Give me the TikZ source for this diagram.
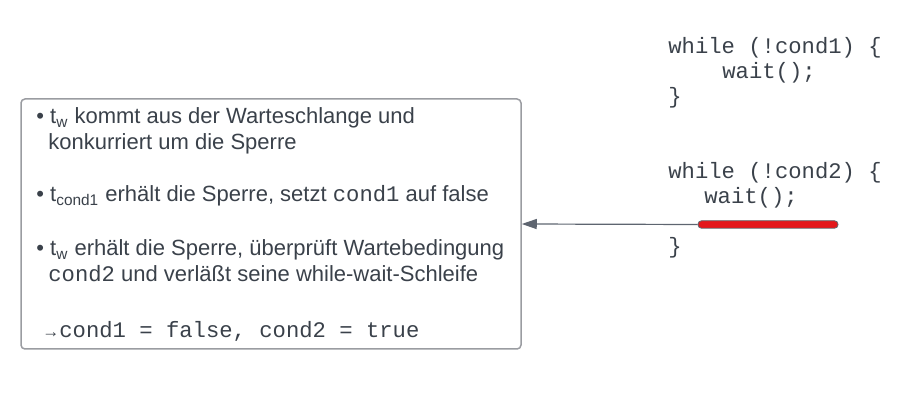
\documentclass[tikz,border=0pt]{standalone}
\usepackage{fontspec}
\setmainfont{Liberation Sans}
\setmonofont[Scale=1.01]{Liberation Mono}
\usetikzlibrary{arrows.meta}
\definecolor{T1}{HTML}{3A414A}
\definecolor{B1}{HTML}{9A9CA1}
\definecolor{A1}{HTML}{5E6570}
\definecolor{R1}{HTML}{E4171B}
\tikzset{
  note/.style = {anchor=base west, inner sep=0pt, text=T1},
  src/.style  = {anchor=base west, inner sep=0pt, text=T1, font=\ttfamily},
  panel/.style = {
    rectangle,
    rounded corners = 2pt,
    minimum width = 250pt,
    minimum height = 125pt,
    draw = B1,
    line width = 0.75pt,
  },
  bar/.style = {
    rectangle,
    rounded corners = 1.75pt,
    minimum width = 70pt,
    minimum height = 3.75pt,
    inner sep = 0pt,
    fill = R1,
    draw = T1!80,
    line width = 0.4pt,
  },
  flow/.style = {A1, line width=0.6pt, -{Triangle[length=7.5pt,width=5pt]}},
}

\begin{document}
\begin{tikzpicture}[x=0.5pt,y=-0.5pt]
  \fontsize{11}{13}\selectfont
  \useasboundingbox (0,0) rectangle (920,400);
  % box with the steps
  \node[panel](box) at (271,224) {};
  \node[note](l1) at (36,124) {• t\textsubscript{w} kommt aus der Warteschlange und};
  \node[note](l2) at (48,150) {konkurriert um die Sperre};
  \node[note](l3) at (36,202) {• t\textsubscript{cond1} erhält die Sperre, setzt \texttt{cond1} auf false};
  \node[note](l4) at (36,256) {• t\textsubscript{w} erhält die Sperre, überprüft Wartebedingung};
  \node[note](l5) at (48,282) {\texttt{cond2} und verläßt seine while-wait-Schleife};
  \node[note](l6) at (42,337) {{\fontsize{8.5}{8.5}\selectfont →}\texttt{cond1 = false, cond2 = true}};
  % code
  \node[src](c1) at (668, 54) {while (!cond1) \{};
  \node[src](c2) at (722, 79) {wait();};
  \node[src](c3) at (668,104) {\}};
  \node[src](c4) at (668,179) {while (!cond2) \{};
  \node[src](c5) at (704,204) {wait();};
  \node[src](c6) at (668,254) {\}};
  \node[bar](bar) at (768,224.5) {};
  \draw[flow](bar.west) -- (box.east);
\end{tikzpicture}
\end{document}
